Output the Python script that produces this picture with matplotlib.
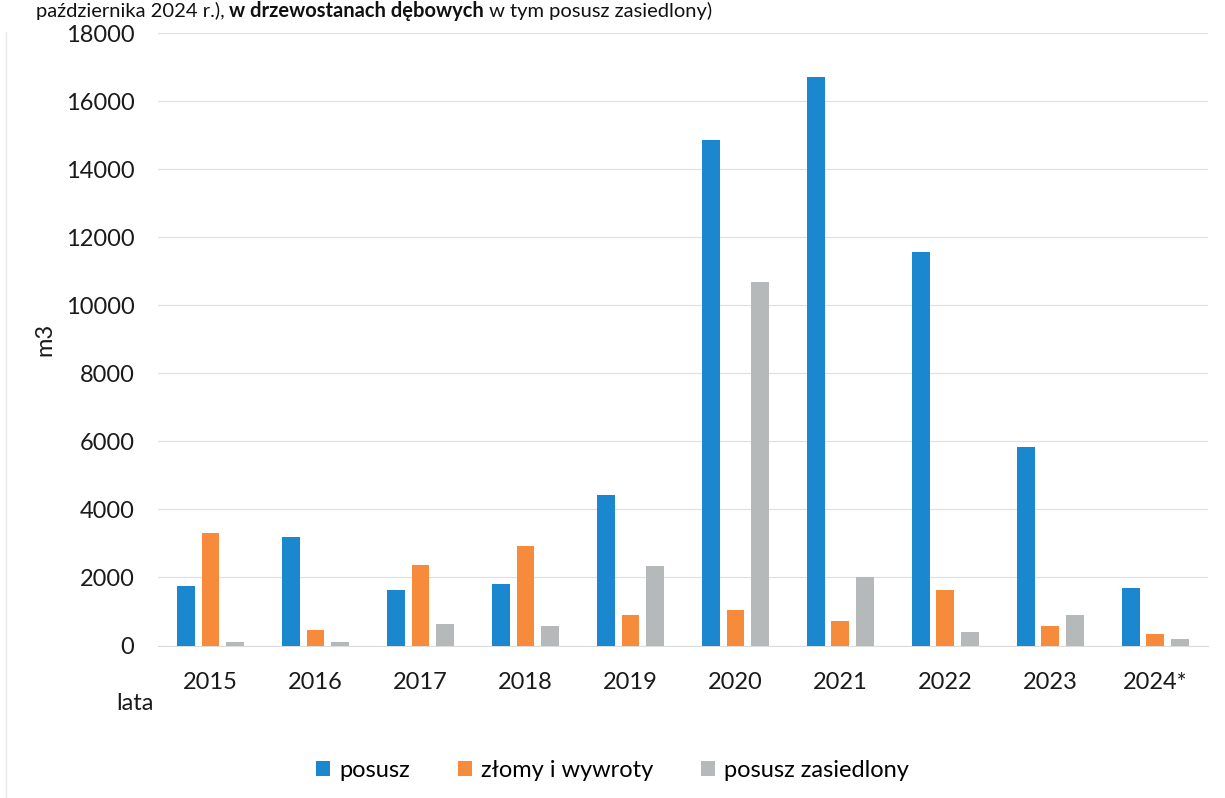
import matplotlib.pyplot as plt
import numpy as np
from matplotlib.lines import Line2D

years = ["2015", "2016", "2017", "2018", "2019", "2020", "2021", "2022", "2023", "2024*"]
posusz = [1760, 3200, 1620, 1800, 4410, 14850, 16720, 11560, 5840, 1680]
zlomy = [3310, 450, 2370, 2920, 910, 1030, 730, 1630, 560, 330]
zasiedlony = [110, 100, 620, 560, 2350, 10670, 2020, 390, 890, 200]

series_names = ["posusz", "złomy i wywroty", "posusz zasiedlony"]
colors = ["#1b87cf", "#f58b3b", "#b5b9b9"]

plt.rcParams["font.family"] = ["Lato", "DejaVu Sans"]

fig = plt.figure(figsize=(12.25, 7.98), dpi=100)
ax = fig.add_axes([0.129, 0.1911, 0.857, 0.7675])

x = np.arange(len(years))
width = 0.17
offset = 0.235
for i, (vals, name, c) in enumerate(zip([posusz, zlomy, zasiedlony], series_names, colors)):
    ax.bar(x + (i - 1) * offset, vals, width, color=c, label=name, zorder=3)

ax.set_xlim(-0.5, len(years) - 0.5)
ax.set_ylim(0, 18000)
ax.set_yticks(np.arange(0, 18001, 2000))
ax.set_xticks(x)
ax.set_xticklabels(years)
ax.tick_params(axis="both", length=0, labelsize=17, colors="#1a1a1a")
ax.tick_params(axis="y", pad=17)
ax.tick_params(axis="x", pad=19)
ax.grid(axis="y", color="#e0e0e0", linewidth=0.9, zorder=0)
for side in ["top", "right", "left"]:
    ax.spines[side].set_visible(False)
ax.spines["bottom"].set_color("#dcdcdc")

fig.text(0.037, 0.575, "m3", rotation=90, fontsize=17, ha="center", va="center", color="#1a1a1a")
fig.text(0.110, 0.119, "lata", fontsize=17, ha="center", va="center", color="#1a1a1a")

ax.legend(loc="center", bbox_to_anchor=(0.5, 0.035), bbox_transform=fig.transFigure,
          ncol=3, frameon=False, fontsize=17, handlelength=0.6, handleheight=0.6,
          handletextpad=0.4, columnspacing=2.0)

# caption line above the chart
cap_y = 0.979
t1 = fig.text(0.029, cap_y, "października 2024 r.), ", fontsize=14.5, va="baseline", color="#111111")
t2 = fig.text(0, cap_y, "w drzewostanach dębowych", fontsize=14.5, fontweight="bold",
              va="baseline", color="#111111")
t3 = fig.text(0, cap_y, " w tym posusz zasiedlony)", fontsize=14.5, va="baseline", color="#111111")
fig.canvas.draw()
r = fig.canvas.get_renderer()
t2.set_x(t1.get_window_extent(r).x1 / fig.bbox.width)
fig.canvas.draw()
t3.set_x(t2.get_window_extent(r).x1 / fig.bbox.width)

# faint frame edge on the left
fig.add_artist(Line2D([0.005, 0.005], [0, 0.96], transform=fig.transFigure,
                      color="#e8e8e8", linewidth=1))

fig.savefig("out.png", dpi=100)
